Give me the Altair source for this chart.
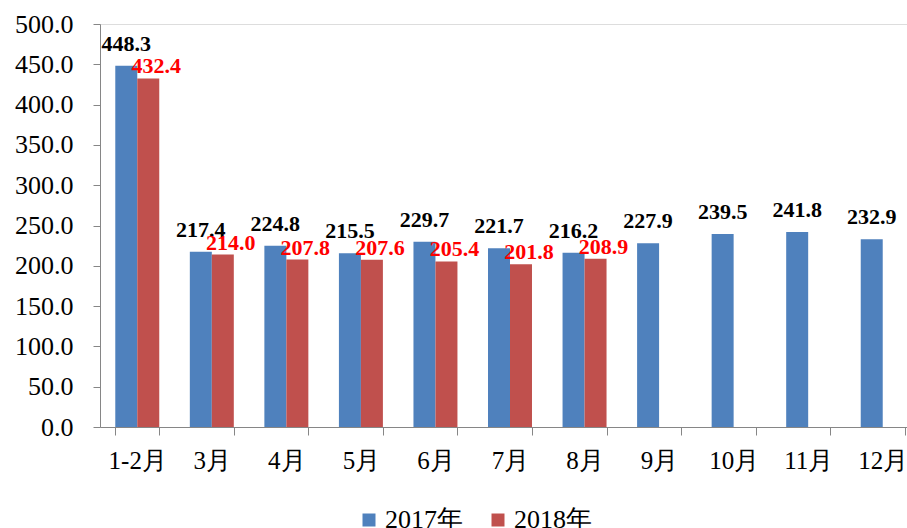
import altair as alt
import pandas as pd

months = ["1-2月", "3月", "4月", "5月", "6月", "7月", "8月", "9月", "10月", "11月", "12月"]
series_2017 = [448.3, 217.4, 224.8, 215.5, 229.7, 221.7, 216.2, 227.9, 239.5, 241.8, 232.9]
series_2018 = [432.4, 214.0, 207.8, 207.6, 205.4, 201.8, 208.9, None, None, None, None]
years = ["2017年", "2018年"]
y_ticks = [0, 50, 100, 150, 200, 250, 300, 350, 400, 450, 500]

rows = []
for m, a, b in zip(months, series_2017, series_2018):
    rows.append({"month": m, "year": years[0], "value": a})
    if b is not None:
        rows.append({"month": m, "year": years[1], "value": b})
df = pd.DataFrame(rows)

FONT = "Liberation Serif"

x_enc = alt.X("month:N", sort=months,
              scale=alt.Scale(domain=months, range=[0, 820], paddingInner=0.41, paddingOuter=0.205),
              axis=alt.Axis(title=None, labelAngle=0, tickBand="extent", labelFontSize=25,
                            labelFont=FONT, labelColor="black", labelPadding=13, tickSize=8,
                            domainColor="#868686", tickColor="#868686", grid=False))
y_enc = alt.Y("value:Q", scale=alt.Scale(domain=[0, 500], nice=False),
              axis=alt.Axis(title=None, values=y_ticks, format=".1f", labelFontSize=26,
                            labelFont=FONT, labelColor="black", labelPadding=20, tickSize=7,
                            domainColor="#868686", tickColor="#868686", grid=False))
xo_enc = alt.XOffset("year:N", scale=alt.Scale(domain=years, paddingInner=0, paddingOuter=0))

base = alt.Chart(df)

bars = base.mark_bar().encode(
    x=x_enc, y=y_enc, xOffset=xo_enc,
    color=alt.Color("year:N", scale=alt.Scale(domain=years, range=["#4F81BD", "#C0504D"]),
                    legend=alt.Legend(title=None, orient="none", legendX=256, legendY=483,
                                      direction="horizontal", symbolType="square", symbolSize=169,
                                      symbolStrokeWidth=0, labelFontSize=26, labelFont=FONT,
                                      labelColor="black", columnPadding=22, labelOffset=3,
                                      padding=0)),
)

lab17 = base.transform_filter(alt.datum.year == years[0]).mark_text(
    font=FONT, fontSize=22, fontWeight="bold", color="black", baseline="alphabetic", dy=-15
).encode(x=x_enc, y=y_enc, xOffset=xo_enc, text=alt.Text("value:Q", format=".1f"))

lab18 = base.transform_filter(alt.datum.year == years[1]).mark_text(
    font=FONT, fontSize=22, fontWeight="bold", color="red", baseline="alphabetic", dy=-5, dx=8
).encode(x=x_enc, y=y_enc, xOffset=xo_enc, text=alt.Text("value:Q", format=".1f"))

chart = alt.layer(bars, lab17, lab18).properties(
    width=807, height=403,
    autosize=alt.AutoSizeParams(type="none"),
    padding={"left": 100, "top": 24, "right": 0, "bottom": 101},
).configure_view(stroke=None).configure(background="white")

chart.save("out.html", embed_options={"renderer": "svg", "actions": False})
